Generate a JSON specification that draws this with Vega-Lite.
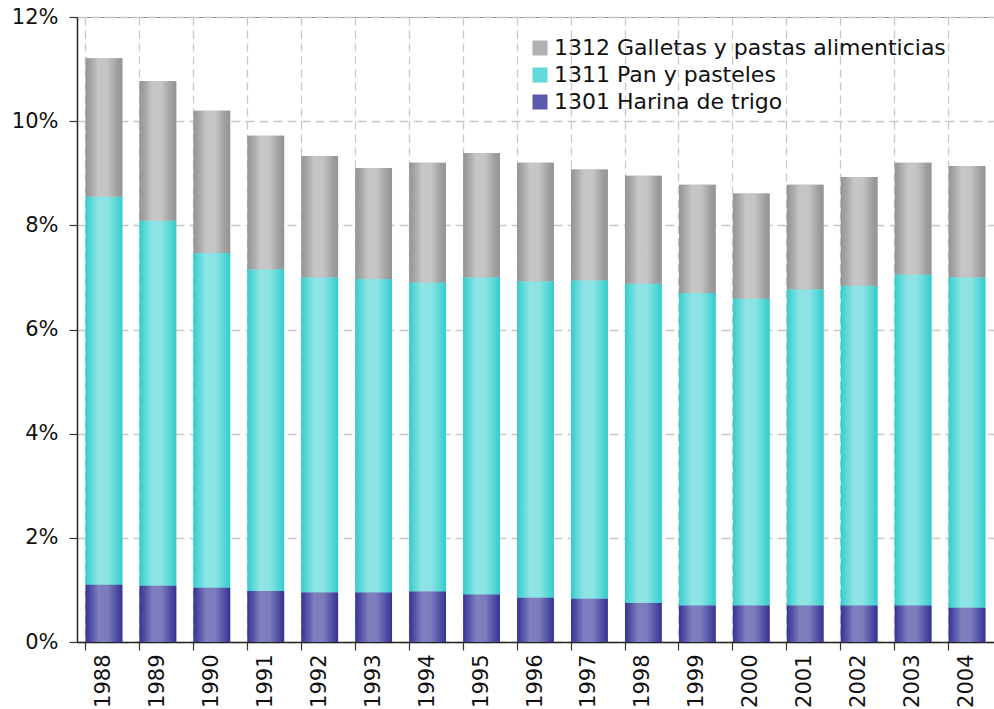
{
  "$schema": "https://vega.github.io/schema/vega-lite/v6.json",
  "autosize": {"type": "none"},
  "padding": {"left": 77, "top": 17, "right": 0, "bottom": 67},
  "width": 917,
  "height": 625,
  "background": "white",
  "config": {
    "view": {"stroke": "#999999", "strokeWidth": 1},
    "font": "DejaVu Sans",
    "axis": {"labelFont": "DejaVu Sans", "labelFontSize": 21, "labelColor": "#111111", "domainColor": "#222222", "domainWidth": 1.5, "tickColor": "#333333", "tickWidth": 1.2},
    "legend": {"labelFont": "DejaVu Sans", "labelFontSize": 22, "labelColor": "#111111"}
  },
  "data": {"values": [
    {"year": "1988", "series": "1301 Harina de trigo", "ord": 1, "v": 1.10},
    {"year": "1988", "series": "1311 Pan y pasteles", "ord": 2, "v": 7.45},
    {"year": "1988", "series": "1312 Galletas y pastas alimenticias", "ord": 3, "v": 2.66},
    {"year": "1989", "series": "1301 Harina de trigo", "ord": 1, "v": 1.08},
    {"year": "1989", "series": "1311 Pan y pasteles", "ord": 2, "v": 7.01},
    {"year": "1989", "series": "1312 Galletas y pastas alimenticias", "ord": 3, "v": 2.68},
    {"year": "1990", "series": "1301 Harina de trigo", "ord": 1, "v": 1.04},
    {"year": "1990", "series": "1311 Pan y pasteles", "ord": 2, "v": 6.43},
    {"year": "1990", "series": "1312 Galletas y pastas alimenticias", "ord": 3, "v": 2.73},
    {"year": "1991", "series": "1301 Harina de trigo", "ord": 1, "v": 0.98},
    {"year": "1991", "series": "1311 Pan y pasteles", "ord": 2, "v": 6.17},
    {"year": "1991", "series": "1312 Galletas y pastas alimenticias", "ord": 3, "v": 2.57},
    {"year": "1992", "series": "1301 Harina de trigo", "ord": 1, "v": 0.95},
    {"year": "1992", "series": "1311 Pan y pasteles", "ord": 2, "v": 6.05},
    {"year": "1992", "series": "1312 Galletas y pastas alimenticias", "ord": 3, "v": 2.33},
    {"year": "1993", "series": "1301 Harina de trigo", "ord": 1, "v": 0.95},
    {"year": "1993", "series": "1311 Pan y pasteles", "ord": 2, "v": 6.02},
    {"year": "1993", "series": "1312 Galletas y pastas alimenticias", "ord": 3, "v": 2.13},
    {"year": "1994", "series": "1301 Harina de trigo", "ord": 1, "v": 0.97},
    {"year": "1994", "series": "1311 Pan y pasteles", "ord": 2, "v": 5.93},
    {"year": "1994", "series": "1312 Galletas y pastas alimenticias", "ord": 3, "v": 2.30},
    {"year": "1995", "series": "1301 Harina de trigo", "ord": 1, "v": 0.91},
    {"year": "1995", "series": "1311 Pan y pasteles", "ord": 2, "v": 6.09},
    {"year": "1995", "series": "1312 Galletas y pastas alimenticias", "ord": 3, "v": 2.39},
    {"year": "1996", "series": "1301 Harina de trigo", "ord": 1, "v": 0.85},
    {"year": "1996", "series": "1311 Pan y pasteles", "ord": 2, "v": 6.07},
    {"year": "1996", "series": "1312 Galletas y pastas alimenticias", "ord": 3, "v": 2.28},
    {"year": "1997", "series": "1301 Harina de trigo", "ord": 1, "v": 0.83},
    {"year": "1997", "series": "1311 Pan y pasteles", "ord": 2, "v": 6.11},
    {"year": "1997", "series": "1312 Galletas y pastas alimenticias", "ord": 3, "v": 2.13},
    {"year": "1998", "series": "1301 Harina de trigo", "ord": 1, "v": 0.75},
    {"year": "1998", "series": "1311 Pan y pasteles", "ord": 2, "v": 6.13},
    {"year": "1998", "series": "1312 Galletas y pastas alimenticias", "ord": 3, "v": 2.07},
    {"year": "1999", "series": "1301 Harina de trigo", "ord": 1, "v": 0.70},
    {"year": "1999", "series": "1311 Pan y pasteles", "ord": 2, "v": 6.00},
    {"year": "1999", "series": "1312 Galletas y pastas alimenticias", "ord": 3, "v": 2.08},
    {"year": "2000", "series": "1301 Harina de trigo", "ord": 1, "v": 0.70},
    {"year": "2000", "series": "1311 Pan y pasteles", "ord": 2, "v": 5.89},
    {"year": "2000", "series": "1312 Galletas y pastas alimenticias", "ord": 3, "v": 2.02},
    {"year": "2001", "series": "1301 Harina de trigo", "ord": 1, "v": 0.70},
    {"year": "2001", "series": "1311 Pan y pasteles", "ord": 2, "v": 6.07},
    {"year": "2001", "series": "1312 Galletas y pastas alimenticias", "ord": 3, "v": 2.01},
    {"year": "2002", "series": "1301 Harina de trigo", "ord": 1, "v": 0.70},
    {"year": "2002", "series": "1311 Pan y pasteles", "ord": 2, "v": 6.14},
    {"year": "2002", "series": "1312 Galletas y pastas alimenticias", "ord": 3, "v": 2.09},
    {"year": "2003", "series": "1301 Harina de trigo", "ord": 1, "v": 0.70},
    {"year": "2003", "series": "1311 Pan y pasteles", "ord": 2, "v": 6.35},
    {"year": "2003", "series": "1312 Galletas y pastas alimenticias", "ord": 3, "v": 2.15},
    {"year": "2004", "series": "1301 Harina de trigo", "ord": 1, "v": 0.66},
    {"year": "2004", "series": "1311 Pan y pasteles", "ord": 2, "v": 6.34},
    {"year": "2004", "series": "1312 Galletas y pastas alimenticias", "ord": 3, "v": 2.14}
  ]},
  "transform": [
    {"stack": "v", "groupby": ["year"], "sort": [{"field": "ord", "order": "ascending"}], "as": ["v0", "v1"]}
  ],
  "encoding": {
    "y": {"field": "v1", "type": "quantitative", "scale": {"domain": [0, 12], "nice": false, "zero": true},
          "axis": {"title": null, "values": [0, 2, 4, 6, 8, 10, 12], "labelExpr": "datum.value + '%'", "grid": true, "gridDash": [9, 5], "gridColor": "#c8c8c8", "gridWidth": 1.3, "tickSize": 8, "labelPadding": 11}},
    "y2": {"field": "v0"}
  },
  "resolve": {"axis": {"x": "independent"}},
  "layer": [
    {
      "mark": {"type": "bar"},
      "encoding": {
        "x": {"field": "year", "type": "nominal", "scale": {"paddingInner": 0.32, "paddingOuter": 0.16},
              "axis": {"title": null, "orient": "bottom", "labels": false, "bandPosition": 0, "grid": true, "gridDash": [8, 5], "gridColor": "#c8c8c8", "gridWidth": 1.3, "ticks": true, "tickSize": 8, "domain": true}},
        "color": {"field": "series", "type": "nominal",
                  "scale": {"domain": ["1312 Galletas y pastas alimenticias", "1311 Pan y pasteles", "1301 Harina de trigo"], "range": ["#b0b0b0", "#62d8d8", "#5c5aaa"]},
                  "legend": {"title": null, "orient": "none", "legendX": 452, "legendY": 20, "symbolType": "square", "symbolSize": 225, "symbolStrokeWidth": 0, "labelOffset": 3, "rowPadding": 5, "labelLimit": 600}}
      }
    },
    {
      "transform": [{"filter": "datum.ord == 3"}],
      "mark": {"type": "bar", "color": {"gradient": "linear", "x1": 0, "y1": 0, "x2": 1, "y2": 0, "stops": [
        {"offset": 0, "color": "#949494"}, {"offset": 0.15, "color": "#a6a6a6"}, {"offset": 0.35, "color": "#c6c6c6"}, {"offset": 0.6, "color": "#c4c4c4"}, {"offset": 0.85, "color": "#a0a0a0"}, {"offset": 1, "color": "#939393"}]}},
      "encoding": {
        "x": {"field": "year", "type": "nominal", "axis": {"title": null, "orient": "bottom", "labelAngle": -90, "ticks": false, "grid": false, "domain": false, "labelPadding": 12}}
      }
    },
    {
      "transform": [{"filter": "datum.ord == 2"}],
      "mark": {"type": "bar", "color": {"gradient": "linear", "x1": 0, "y1": 0, "x2": 1, "y2": 0, "stops": [
        {"offset": 0, "color": "#33cccc"}, {"offset": 0.15, "color": "#5cd8d8"}, {"offset": 0.35, "color": "#8fe4e4"}, {"offset": 0.6, "color": "#8ce3e3"}, {"offset": 0.85, "color": "#55d6d6"}, {"offset": 1, "color": "#33cbcb"}]}},
      "encoding": {
        "x": {"field": "year", "type": "nominal", "axis": null}
      }
    },
    {
      "transform": [{"filter": "datum.ord == 1"}],
      "mark": {"type": "bar", "color": {"gradient": "linear", "x1": 0, "y1": 0, "x2": 1, "y2": 0, "stops": [
        {"offset": 0, "color": "#363494"}, {"offset": 0.15, "color": "#5452a6"}, {"offset": 0.35, "color": "#7f7ebe"}, {"offset": 0.6, "color": "#7c7bbc"}, {"offset": 0.85, "color": "#4f4da3"}, {"offset": 1, "color": "#353393"}]}},
      "encoding": {
        "x": {"field": "year", "type": "nominal", "axis": null}
      }
    }
  ]
}
